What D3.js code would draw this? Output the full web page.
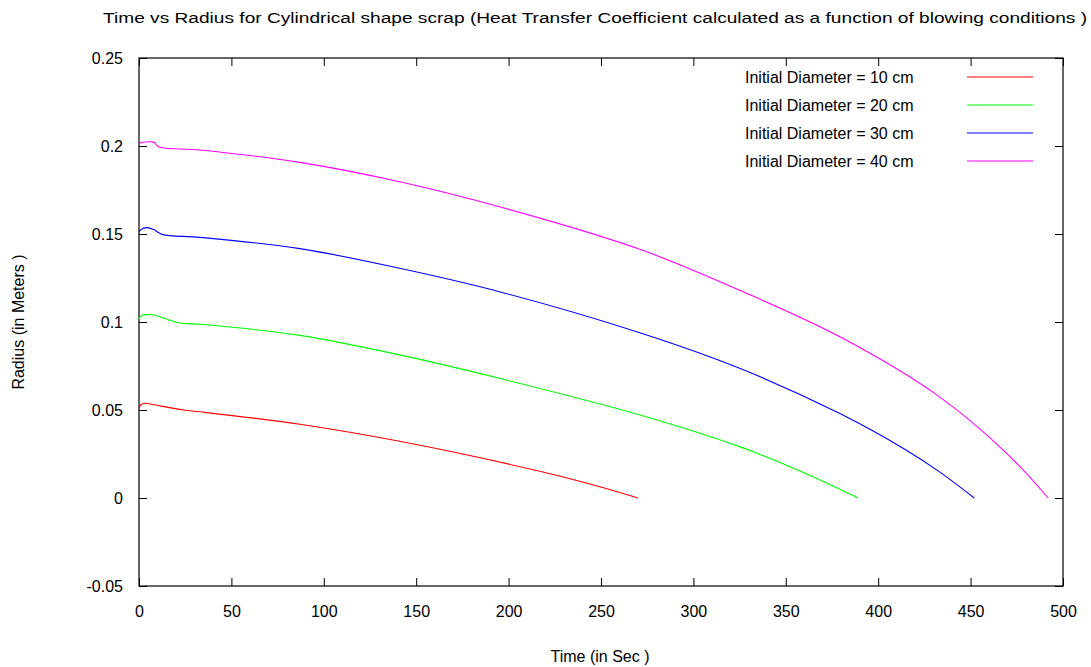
<!DOCTYPE html>
<html><head><meta charset="utf-8">
<script src="https://cdn.jsdelivr.net/npm/d3@7"></script>
<style>body{margin:0;background:#fff;} text{font-family:"Liberation Sans",Arial,sans-serif;}</style>
</head><body><svg id="c" width="1091" height="667"></svg>
<script>
const title = "Time vs Radius for Cylindrical shape scrap (Heat Transfer Coefficient calculated as a function of blowing conditions )";
const xLabel = "Time (in Sec )";
const yLabel = "Radius (in Meters )";
const seriesNames = ["Initial Diameter = 10 cm","Initial Diameter = 20 cm","Initial Diameter = 30 cm","Initial Diameter = 40 cm"];
const seriesColors = ["#ff0000","#00ff00","#0000ff","#ff00ff"];
const xTicks = [0,50,100,150,200,250,300,350,400,450,500];
const yTicks = [-0.05,0,0.05,0.1,0.15,0.2,0.25];

const time10 = [0,1,3.5,8,24,33,87,141,214,242,270];
const r10    = [0.0505,0.053,0.0538,0.053,0.050,0.049,0.0419,0.0322,0.0159,0.0085,0];
const time20 = [0,1,4,8,22,33,87,141,195,271,325,361,389.2];
const r20    = [0.1012,0.1035,0.1042,0.104,0.0994,0.0987,0.0924,0.0813,0.068,0.0472,0.0292,0.0138,0];
const time30 = [0,1,4.3,8,12.5,33,87,141,195,271,325,379,415,433,452];
const r30    = [0.151,0.1525,0.1536,0.1525,0.1498,0.1481,0.1417,0.1305,0.1172,0.0939,0.0737,0.0481,0.0273,0.015,0];
const time40 = [0,1,4,8,10.5,33,87,141,195,271,325,379,433,469.5,492];
const r40    = [0.2006,0.202,0.2023,0.2022,0.1996,0.1977,0.1907,0.1797,0.1655,0.1413,0.1180,0.0917,0.0576,0.0254,0];

const times = [time10,time20,time30,time40];
const radii = [r10,r20,r30,r40];

const svg = d3.select("#c");
const L=139, R=1063, T=58, B=586;
const x = d3.scaleLinear().domain([0,500]).range([L,R]);
const y = d3.scaleLinear().domain([-0.05,0.25]).range([B,T]);

svg.append("rect").attr("x",L).attr("y",T).attr("width",R-L).attr("height",B-T)
  .attr("fill","none").attr("stroke","#000").attr("stroke-width",1.2);

const fmtY = d => d===0 ? "0" : String(+d.toFixed(2));
const gBottom = svg.append("g").attr("transform",`translate(0,${B})`)
  .call(d3.axisBottom(x).tickValues(xTicks).tickSizeInner(-8).tickSizeOuter(0).tickPadding(20).tickFormat(d3.format("d")));
const gTop = svg.append("g").attr("transform",`translate(0,${T})`)
  .call(d3.axisTop(x).tickValues(xTicks).tickSizeInner(-8).tickSizeOuter(0).tickFormat(""));
const gLeft = svg.append("g").attr("transform",`translate(${L},0)`)
  .call(d3.axisLeft(y).tickValues(yTicks).tickSizeInner(-8).tickSizeOuter(0).tickPadding(16).tickFormat(fmtY));
const gRight = svg.append("g").attr("transform",`translate(${R},0)`)
  .call(d3.axisRight(y).tickValues(yTicks).tickSizeInner(-8).tickSizeOuter(0).tickFormat(""));
[gBottom,gTop,gLeft,gRight].forEach(g=>{
  g.select(".domain").remove();
  g.selectAll(".tick line").attr("stroke","#000");
  g.selectAll("text").attr("font-size",16).attr("fill","#000").attr("font-family","Liberation Sans, Arial, sans-serif");
});

const line = d3.line().x(d=>x(d[0])).y(d=>y(d[1])).curve(d3.curveCatmullRom.alpha(0.5));
times.forEach((ts,i)=>{
  const pts = ts.map((t,j)=>[t,radii[i][j]]);
  svg.append("path").datum(pts).attr("d",line).attr("fill","none")
    .attr("stroke",seriesColors[i]).attr("stroke-width",1.1);
});

const leg = svg.append("g");
seriesNames.forEach((n,i)=>{
  const yy = 77 + i*28;
  leg.append("text").attr("x",745).attr("y",yy).attr("dy","0.35em").attr("font-size",16).text(n);
  leg.append("line").attr("x1",967).attr("x2",1033).attr("y1",yy).attr("y2",yy)
    .attr("stroke",seriesColors[i]).attr("stroke-width",1.1);
});

svg.append("text").attr("x",595).attr("y",23).attr("text-anchor","middle").attr("font-size",14)
  .attr("textLength",984).attr("lengthAdjust","spacingAndGlyphs").text(title);
svg.append("text").attr("x",600).attr("y",662).attr("text-anchor","middle").attr("font-size",16).text(xLabel);
svg.append("text").attr("transform","translate(24,322) rotate(-90)").attr("text-anchor","middle").attr("font-size",16).text(yLabel);
</script></body></html>
